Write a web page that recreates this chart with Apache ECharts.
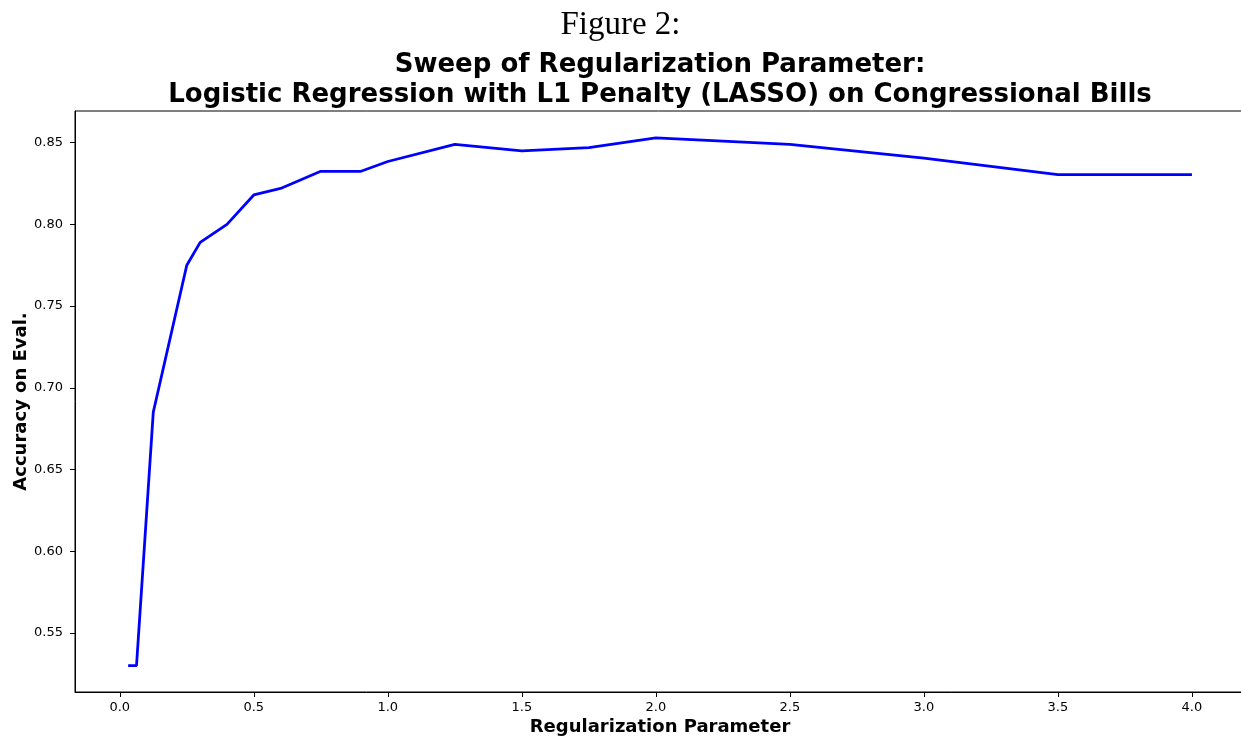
<!DOCTYPE html>
<html>
<head>
<meta charset="utf-8">
<script src="https://cdn.jsdelivr.net/npm/echarts@6/dist/echarts.min.js"></script>
<style>html,body{margin:0;padding:0;background:#fff;}#c{width:1241px;height:736px;}</style>
</head>
<body>
<div id="c"></div>
<script>
const regParams = [0.03125, 0.0625, 0.125, 0.25, 0.3, 0.4, 0.5, 0.6, 0.75, 0.9, 1.0, 1.25, 1.5, 1.75, 2.0, 2.5, 3.0, 3.5, 4.0];
const accuracy  = [0.530, 0.530, 0.685, 0.775, 0.789, 0.800, 0.818, 0.822, 0.8325, 0.8325, 0.8385, 0.849, 0.845, 0.847, 0.853, 0.849, 0.8405, 0.8305, 0.8305];
const xTicks = [0.0, 0.5, 1.0, 1.5, 2.0, 2.5, 3.0, 3.5, 4.0];
const yTicks = [0.55, 0.60, 0.65, 0.70, 0.75, 0.80, 0.85];

const chart = echarts.init(document.getElementById('c'), null, {renderer: 'canvas'});
const sans = 'DejaVu Sans';
chart.setOption({
  animation: false,
  backgroundColor: '#ffffff',
  title: [
    {text: 'Figure 2:', left: 'center', top: 4,
     textStyle: {fontFamily: 'Liberation Serif', fontWeight: 'normal', fontSize: 33, color: '#000'}},
    {text: 'Sweep of Regularization Parameter:\nLogistic Regression with L1 Penalty (LASSO) on Congressional Bills',
     left: 655, top: 45, textAlign: 'center',
     textStyle: {fontFamily: sans, fontWeight: 'bold', fontSize: 26, lineHeight: 30, color: '#000', align: 'center'}}
  ],
  grid: {left: 75, right: -4, top: 111, bottom: 44, outerBoundsMode: 'none', containLabel: false,
         show: true, borderColor: '#000', borderWidth: 1, backgroundColor: 'transparent'},
  xAxis: {
    type: 'value', min: -0.167, max: 4.198,
    name: 'Regularization Parameter', nameLocation: 'middle', nameGap: 26, nameMoveOverlap: false,
    nameTextStyle: {fontFamily: sans, fontWeight: 'bold', fontSize: 18, color: '#000'},
    axisLine: {show: true, onZero: false, lineStyle: {color: '#000', width: 1}},
    axisTick: {show: true, inside: false, length: 5, customValues: xTicks, lineStyle: {color: '#000'}},
    axisLabel: {customValues: xTicks, margin: 9, fontFamily: sans, fontSize: 13, color: '#000',
      formatter: v => v.toFixed(1)},
    splitLine: {show: false}
  },
  yAxis: {
    type: 'value', min: 0.5138, max: 0.8694,
    name: 'Accuracy on Eval.', nameLocation: 'middle', nameGap: 45, nameMoveOverlap: false,
    nameTextStyle: {fontFamily: sans, fontWeight: 'bold', fontSize: 18, color: '#000'},
    axisLine: {show: true, onZero: false, lineStyle: {color: '#000', width: 1}},
    axisTick: {show: true, inside: false, length: 5, customValues: yTicks, lineStyle: {color: '#000'}},
    axisLabel: {customValues: yTicks, margin: 12, fontFamily: sans, fontSize: 13, color: '#000',
      formatter: v => v.toFixed(2)},
    splitLine: {show: false}
  },
  series: [{
    type: 'line',
    data: regParams.map((x, i) => [x, accuracy[i]]),
    showSymbol: false,
    lineStyle: {color: '#0000ff', width: 2.8},
    itemStyle: {color: '#0000ff'}
  }]
});
</script>
</body>
</html>
